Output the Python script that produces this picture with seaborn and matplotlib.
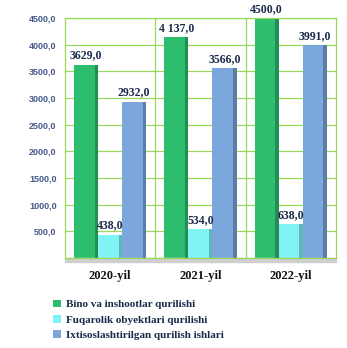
import matplotlib
matplotlib.use("Agg")
import matplotlib.pyplot as plt
import seaborn as sns
import pandas as pd
from matplotlib.patches import Rectangle, Patch
import matplotlib.colors as mcolors

years = ["2020-yil", "2021-yil", "2022-yil"]
series = ["Bino va inshootlar qurilishi",
          "Fuqarolik obyektlari qurilishi",
          "Ixtisoslashtirilgan qurilish ishlari"]
bino = [3629.0, 4137.0, 4500.0]
fuqarolik = [438.0, 534.0, 638.0]
ixtisos = [2932.0, 3566.0, 3991.0]
value_labels = {
    series[0]: ["3629,0", "4 137,0", "4500,0"],
    series[1]: ["438,0", "534,0", "638,0"],
    series[2]: ["2932,0", "3566,0", "3991,0"],
}
yticks = [500, 1000, 1500, 2000, 2500, 3000, 3500, 4000, 4500]
ytick_labels = ["500,0", "1000,0", "1500,0", "2000,0", "2500,0",
                "3000,0", "3500,0", "4000,0", "4500,0"]

colors = ["#2dbd6e", "#80f4f4", "#7ba7dc"]

df = pd.DataFrame({
    "year": years * 3,
    "series": [series[0]] * 3 + [series[1]] * 3 + [series[2]] * 3,
    "value": bino + fuqarolik + ixtisos,
})

sns.set_theme(style="white")
plt.rcParams["font.family"] = ["Liberation Serif", "DejaVu Sans"]

fig = plt.figure(figsize=(3.47, 3.48), dpi=100)
ax = fig.add_axes([0.187, 0.259, 0.781, 0.689])

sns.barplot(data=df, x="year", y="value", hue="series", order=years,
            hue_order=series, palette=colors, width=0.8, saturation=1,
            ax=ax, legend=False, linewidth=0)

ax.set_ylim(0, 4500)
ax.set_xlim(-0.5, 2.5)
ax.set_yticks(yticks)
ax.set_yticklabels(ytick_labels, fontfamily="Liberation Sans",
                   fontsize=6.5, color="#45598a", fontweight="bold")
ax.set_xticks(range(len(years)))
ax.set_xticklabels(years, fontsize=9, fontweight="bold", color="#111111")
ax.tick_params(axis="x", length=0, pad=9)
ax.tick_params(axis="y", length=4, color="#9ad85a", width=0.8, pad=2)
ax.set_xlabel("")
ax.set_ylabel("")

grid_c = "#9ad85a"
ax.yaxis.grid(True, color=grid_c, linewidth=0.9)
for xv in [0.5, 1.5]:
    ax.axvline(xv, color=grid_c, linewidth=0.9, zorder=0)
ax.set_axisbelow(True)
for sp in ax.spines.values():
    sp.set_color(grid_c)
    sp.set_linewidth(0.9)

# floor shadow
ax.add_patch(Rectangle((0, -0.018), 1, 0.018, transform=ax.transAxes,
                       color="#cfcfcf", clip_on=False, zorder=1))

# pseudo-3D side shading and labels
for container, s, col in zip(ax.containers, series, colors):
    dark = mcolors.to_rgb(col)
    dark = tuple(c * 0.75 for c in dark)
    for patch, lab in zip(container.patches, value_labels[s]):
        x0 = patch.get_x()
        w = patch.get_width()
        h = patch.get_height()
        ax.add_patch(Rectangle((x0 + w * 0.86, 0), w * 0.14, h,
                               color=dark, zorder=patch.get_zorder() + 0.1,
                               linewidth=0))
        ax.text(x0 + w / 2, h + 60, lab, ha="center", va="bottom",
                fontsize=8.5, fontweight="bold", color="#1b2a4a")

handles = [Patch(facecolor=c, edgecolor="none") for c in colors]
leg = fig.legend(handles, series, loc="upper left",
                 bbox_to_anchor=(0.125, 0.168), frameon=False,
                 handlelength=0.7, handleheight=0.7, handletextpad=0.4,
                 labelspacing=0.5, prop={"family": "Liberation Serif",
                                         "weight": "bold", "size": 8})
for t in leg.get_texts():
    t.set_color("#1b2a4a")

fig.savefig("out.png", dpi=100)
